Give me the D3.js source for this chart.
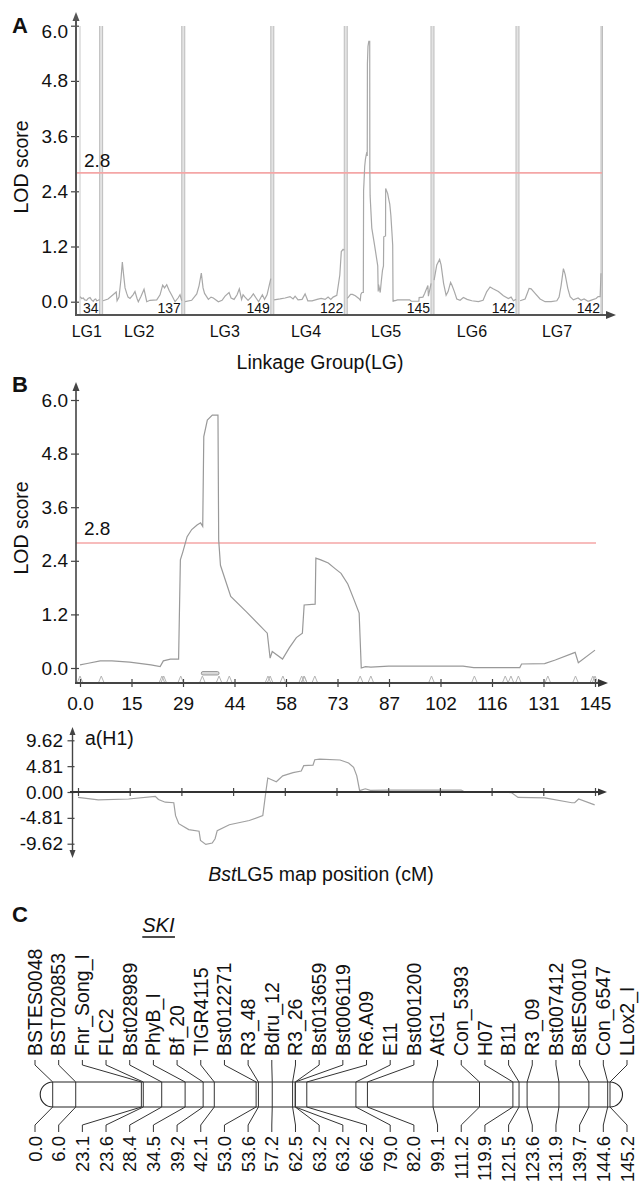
<!DOCTYPE html>
<html><head><meta charset="utf-8">
<script src="https://cdn.jsdelivr.net/npm/d3@7"></script>
<style>
body{margin:0;background:#fff}
svg{display:block}
text{font-family:"Liberation Sans",Arial,Helvetica,sans-serif;fill:#111}
</style>
</head><body>
<svg id="c" width="642" height="1183"></svg>
<script>
// ================= DATA =================
// Panel A: genome-wide scan
const groups = ["LG1","LG2","LG3","LG4","LG5","LG6","LG7"];
const groupLengths = [34,137,149,122,145,142,142];
const lodTicks = [0,1.2,2.4,3.6,4.8,6.0];
const threshold = 2.8;
// [position cM within group, LOD]
const lodLG1 = [[0,0.11],[3,0.07],[5.7,0.08],[8,0.04],[11.6,0.03],[14,0.07],[17.3,0.09],[20,0.04],[23,0.01],[25,0.05],[27.2,0.06],[29,0.02],[31.7,0.03],[34,0.05]];
const lodLG2 = [[0.7,0.02],[9.4,0.06],[18,0.15],[23.5,0.21],[25,0.02],[28.4,0.1],[31.8,0.5],[34.1,0.86],[36.2,0.6],[38.8,0.3],[41.7,0.18],[44,0.1],[47.4,0.07],[52.6,0.15],[56,0.22],[59.6,0.07],[61.8,0.0],[66.5,0.12],[71.7,0.27],[76.4,0.0],[82,0.03],[93.7,0.04],[99.4,0.15],[104,0.36],[107.2,0.3],[111,0.37],[115,0.25],[119.7,0.14],[125.4,0.0],[130.6,0.08],[134,0.15],[137,0.02]];
const lodLG3 = [[0.5,0.0],[12,0.03],[20.8,0.17],[24.8,0.35],[28.7,0.62],[31.7,0.3],[34.3,0.18],[40.9,0.05],[45.5,0.1],[49.5,0.08],[58.2,0.0],[64.6,0.03],[69.8,0.12],[76.7,0.2],[80.2,0.08],[85.4,0.05],[90.6,0.15],[94.5,0.28],[98.4,0.05],[101,0.15],[104.4,0.1],[109.6,0.03],[114.8,0.1],[118.8,0.17],[123.5,0.08],[127.8,0.0],[130.4,0.06],[134.4,0.15],[138.2,0.05],[142.5,0.15],[149,0.5]];
const lodLG4 = [[0.5,0.04],[10.9,0.06],[19.6,0.08],[28.2,0.11],[33.4,0.06],[36.9,0.12],[42,0.04],[49,0.05],[54.2,0.17],[58.9,0.02],[66.3,0.02],[75,0.05],[81.9,0.07],[88.8,0.05],[94,0.1],[98.7,0.05],[102.7,0.1],[109.1,0.14],[114.3,0.58],[116.9,1.09],[120,1.14],[122,1.12]];
const lodLG6 = [[0.2,0.47],[4.8,0.8],[9.7,0.92],[12.3,0.8],[16.6,0.4],[21,0.14],[24.4,0.22],[28.7,0.42],[31.3,0.35],[35.3,0.22],[39.5,0.06],[45.2,0.03],[50.9,0.09],[57.3,0.05],[65.5,0.02],[76.9,0.0],[85,0.03],[91.4,0.22],[97.1,0.32],[102.3,0.28],[111.5,0.22],[120.2,0.13],[128.8,0.07],[133.5,0.1],[137.5,0.02],[142,0.05]];
const lodLG7 = [[1.9,0.02],[10.6,0.06],[14.9,0.2],[17.5,0.29],[21,0.28],[27.9,0.18],[36.5,0.06],[45.2,0.0],[55.6,0.0],[65.5,0.02],[69.4,0.1],[72.9,0.35],[76.9,0.72],[79.8,0.6],[84.5,0.29],[88.5,0.11],[94.2,0.04],[102.3,0.08],[107.5,0.03],[112.7,0.06],[119.6,0.01],[126.6,0.04],[133.5,0.07],[137,0.11],[140.5,0.11],[142,0.62]];

// Panel B: LG5 detail (also LG5 in panel A)
const lodLG5 = [[0,0.07],[2,0.1],[5.7,0.16],[9,0.16],[14,0.13],[20,0.07],[22.6,0.03],[23.5,0.16],[25.5,0.2],[27.8,0.2],[28.3,2.42],[29,2.6],[30.2,2.94],[31.5,3.1],[33,3.2],[34,3.25],[34.6,3.17],[34.9,5.18],[35.9,5.55],[37.3,5.66],[38.9,5.66],[39.1,2.87],[39.6,2.3],[42.5,1.6],[47,1.25],[52.8,0.78],[53.6,0.22],[54.2,0.37],[57.1,0.2],[59,0.45],[61,0.68],[62.7,0.78],[63.2,1.41],[66.3,1.43],[66.5,2.46],[67.9,2.42],[70,2.35],[72,2.22],[73.6,2.12],[75.5,1.88],[77.3,1.52],[78.7,1.23],[79.3,0.0],[80.5,0.03],[82,0.02],[87,0.04],[108,0.04],[111,0.01],[124,0.01],[124.5,0.09],[131,0.1],[134,0.18],[139.6,0.35],[140.5,0.12],[145.2,0.4]];
const xTickLabelsB = ["0.0","15","29","44","58","73","87","102","116","131","145"];
const supportInterval = [34.2, 39.2];

// Additive effect a(H1)
const effectTicks = [-9.62,-4.81,0,4.81,9.62];
const effectH1 = [[0,-1.0],[5.7,-1.48],[14.2,-1.3],[21.7,-0.8],[22.6,-1.4],[24.5,-1.9],[26.9,-2.0],[27.4,-4.4],[28.3,-5.9],[31.1,-7.0],[34.0,-7.3],[34.4,-9.0],[35.9,-9.76],[37.7,-9.5],[38.5,-8.7],[39.1,-7.2],[42.5,-6.1],[48.1,-5.3],[51.9,-4.4],[52.8,0.24],[53.3,2.6],[55.7,1.9],[57.5,3.0],[60.4,3.6],[62.7,3.9],[63.4,4.9],[66.0,5.0],[66.5,6.0],[67.9,6.1],[73.6,5.95],[76,5.4],[77.4,4.6],[78.3,3.0],[79.1,0.25],[80.7,0.6],[82.1,0.3],[86.8,0.36],[107.6,0.36],[108.5,0.06],[117.9,0.0],[121.7,-0.1],[123.6,-1.0],[131.1,-1.1],[138.7,-2.0],[139.5,-2.0],[140.6,-1.3],[145.1,-2.4]];

// Panel C: BstLG5 map
const markers = ["BSTES0048","BST020853","Fnr_Song_I","FLC2","Bst028989","PhyB_I","Bf_20","TIGR4115","Bst012271","R3_48","Bdru_12","R3_26","Bst013659","Bst006119","R6.A09","E11","Bst001200","AtG1","Con_5393","H07","B11","R3_09","Bst007412","BstES0010","Con_6547","LLox2_I"];
const markerPos = [0.0,6.0,23.1,23.6,28.4,34.5,39.2,42.1,53.0,53.6,57.2,62.5,63.2,63.2,66.2,79.0,82.0,99.1,111.2,119.9,121.5,123.6,131.9,139.7,144.6,145.2];

// ================= DRAWING =================
const svg = d3.select("#c");
const AX = "#444";

function tri(g, x, y, dir, color, L=9, W=4){
  let p;
  if(dir==="up") p=[[x,y],[x-W,y+L],[x+W,y+L]];
  else if(dir==="down") p=[[x,y],[x-W,y-L],[x+W,y-L]];
  else p=[[x,y],[x-L,y-W],[x-L,y+W]];
  g.append("path").attr("d", d3.line()(p)+"Z").attr("fill", color);
}
function styleAxis(g, fs){
  g.select(".domain").remove();
  g.selectAll("text").attr("font-size", fs).attr("fill","#111")
    .attr("font-family",'"Liberation Sans",Arial,sans-serif');
  g.selectAll("line").attr("stroke", AX).attr("stroke-width",1.2);
}

// ---------- Panel A ----------
const gA = svg.append("g");
const kA = 0.5775, gapA = 3, x0A = 80;
const starts = []; let acc = x0A;
groupLengths.forEach(L => { starts.push(acc); acc += L*kA + gapA; });
const xGroup = groupLengths.map((L,i) => d3.scaleLinear([0,L],[starts[i], starts[i]+L*kA]));
const yA = d3.scaleLinear([0,6],[301.7,25.7]);
const topA = 26, baseA = 315;

// group boundaries
for(let i=0;i<groups.length;i++){
  const e = xGroup[i](groupLengths[i]);
  const s2 = i<groups.length-1 ? xGroup[i+1](0) : e+1.5;
  gA.append("rect").attr("x",e).attr("y",topA).attr("width",s2-e).attr("height",baseA-topA).attr("fill","#e3e3e3");
  [e,s2].forEach(x=>gA.append("line").attr("x1",x).attr("x2",x).attr("y1",topA).attr("y2",baseA).attr("stroke","#bdbdbd").attr("stroke-width",1));
}
gA.append("line").attr("x1",xGroup[0](0)).attr("x2",xGroup[0](0)).attr("y1",topA).attr("y2",baseA).attr("stroke","#c8c8c8");

// threshold
gA.append("line").attr("x1",76).attr("x2",602).attr("y1",yA(threshold)).attr("y2",yA(threshold)).attr("stroke","#f4a6a6").attr("stroke-width",1.6);
gA.append("text").attr("x",84).attr("y",yA(threshold)-6).attr("font-size",19).text(threshold.toFixed(1));

// curves
const lodsA = [lodLG1,lodLG2,lodLG3,lodLG4,lodLG5,lodLG6,lodLG7];
lodsA.forEach((arr,i)=>{
  gA.append("path").datum(arr)
    .attr("d", d3.line().x(d=>xGroup[i](d[0])).y(d=>yA(d[1])))
    .attr("fill","none").attr("stroke","#a8a8a8").attr("stroke-width",1.2);
});

// group labels
groups.forEach((name,i)=>{
  const L = groupLengths[i];
  gA.append("text").attr("x",xGroup[i](L)-1).attr("y",313).attr("text-anchor","end").attr("font-size",14).text(L);
  gA.append("text").attr("x",(xGroup[i](0)+xGroup[i](L))/2-3).attr("y",337).attr("text-anchor","middle").attr("font-size",16).text(name);
});

// axes A
const axA = gA.append("g").attr("transform","translate(76,0)")
  .call(d3.axisLeft(yA).tickValues(lodTicks).tickFormat(d3.format(".1f")).tickSize(5).tickPadding(3));
styleAxis(axA,19);
axA.selectAll(".tick line").attr("x2",-5).attr("x1",3);
axA.selectAll(".tick text").filter(d=>d===6).attr("dy","0.62em");
gA.append("line").attr("x1",76).attr("x2",76).attr("y1",baseA).attr("y2",20).attr("stroke","#555").attr("stroke-width",2);
tri(gA,76,12,"up","#555",9,3.5);
gA.append("line").attr("x1",75).attr("x2",608).attr("y1",baseA).attr("y2",baseA).attr("stroke","#555").attr("stroke-width",2.2);
tri(gA,616,baseA,"right","#444",10,4);
gA.append("text").attr("transform","translate(28,167) rotate(-90)").attr("text-anchor","middle").attr("font-size",19.5).text("LOD score");
gA.append("text").attr("x",320).attr("y",369).attr("text-anchor","middle").attr("font-size",19.5).text("Linkage Group(LG)");
svg.append("text").attr("x",12).attr("y",33).attr("font-size",22).attr("font-weight","bold").text("A");

// ---------- Panel B ----------
const gB = svg.append("g");
const xB = d3.scaleLinear([0,145.2],[80,595]);
const yB = d3.scaleLinear([0,6],[668,400]);
const baseB = 683;
const tickValsB = xTickLabelsB.map((d,i)=>145.2*i/10);

gB.append("line").attr("x1",76).attr("x2",596).attr("y1",yB(threshold)).attr("y2",yB(threshold)).attr("stroke","#f4a6a6").attr("stroke-width",1.6);
gB.append("text").attr("x",84).attr("y",535).attr("font-size",19).text(threshold.toFixed(1));

gB.append("path").datum(lodLG5)
  .attr("d", d3.line().x(d=>xB(d[0])).y(d=>yB(d[1])))
  .attr("fill","none").attr("stroke","#999").attr("stroke-width",1.2);

// marker carets on axis
gB.selectAll(".caret").data(markerPos).enter().append("path")
  .attr("d", d => `M${xB(d)-2.5},${baseB-1}L${xB(d)},${baseB-7}L${xB(d)+2.5},${baseB-1}`)
  .attr("fill","none").attr("stroke","#b5b5b5").attr("stroke-width",1);
// support interval bar
gB.append("rect").attr("x",xB(supportInterval[0])).attr("y",671.5).attr("width",xB(supportInterval[1])-xB(supportInterval[0])).attr("height",3.5)
  .attr("rx",1.7).attr("fill","#d8d8d8").attr("stroke","#888").attr("stroke-width",0.8);

const axBy = gB.append("g").attr("transform","translate(76,0)")
  .call(d3.axisLeft(yB).tickValues(lodTicks).tickFormat(d3.format(".1f")).tickSize(5).tickPadding(3));
styleAxis(axBy,19);
axBy.selectAll(".tick line").attr("x1",3);
const axBx = gB.append("g").attr("transform",`translate(0,${baseB})`)
  .call(d3.axisBottom(xB).tickValues(tickValsB).tickFormat((d,i)=>xTickLabelsB[i]).tickSize(4).tickPadding(9.5));
styleAxis(axBx,19);
axBx.selectAll(".tick line").attr("y1",-4);
gB.append("line").attr("x1",76).attr("x2",76).attr("y1",baseB).attr("y2",390).attr("stroke","#444").attr("stroke-width",1.6);
tri(gB,76,382,"up","#444",9,3.5);
gB.append("line").attr("x1",75).attr("x2",600).attr("y1",baseB).attr("y2",baseB).attr("stroke","#444").attr("stroke-width",1.8);
tri(gB,608,baseB,"right","#333",10,4);
gB.append("text").attr("transform","translate(28,528) rotate(-90)").attr("text-anchor","middle").attr("font-size",19.5).text("LOD score");
svg.append("text").attr("x",12).attr("y",392).attr("font-size",22).attr("font-weight","bold").text("B");

// ---------- a(H1) ----------
const gH = svg.append("g");
const xH = d3.scaleLinear([0,145.2],[78,595]);
const yH = d3.scaleLinear([-9.62,9.62],[843.7,740.3]);
const zeroH = yH(0);
gH.append("path").datum(effectH1)
  .attr("d", d3.line().x(d=>xH(d[0])).y(d=>yH(d[1])))
  .attr("fill","none").attr("stroke","#a0a0a0").attr("stroke-width",1.2);
const axHy = gH.append("g").attr("transform","translate(72.5,0)")
  .call(d3.axisLeft(yH).tickValues(effectTicks).tickFormat(d=>d.toFixed(2)).tickSize(5).tickPadding(4.5));
styleAxis(axHy,19);
axHy.selectAll(".tick line").attr("x1",2);
const axHx = gH.append("g").attr("transform",`translate(0,${zeroH})`)
  .call(d3.axisBottom(xH).tickValues(tickValsB).tickFormat("").tickSize(4));
styleAxis(axHx,19);
axHx.selectAll(".tick line").attr("y1",-4);
gH.append("line").attr("x1",72.5).attr("x2",72.5).attr("y1",734).attr("y2",851).attr("stroke","#444").attr("stroke-width",1.4);
tri(gH,72.5,727,"up","#444",8,3);
tri(gH,72.5,858,"down","#444",8,3);
gH.append("line").attr("x1",70).attr("x2",600).attr("y1",zeroH).attr("y2",zeroH).attr("stroke","#333").attr("stroke-width",1.8);
tri(gH,607,zeroH,"right","#333",9,3.5);
gH.append("text").attr("x",85).attr("y",745).attr("font-size",19.5).text("a(H1)");
const tt = gH.append("text").attr("x",321).attr("y",881).attr("text-anchor","middle").attr("font-size",19.5);
tt.append("tspan").attr("font-style","italic").text("Bst");
tt.append("tspan").text("LG5 map position (cM)");

// ---------- Panel C ----------
const gC = svg.append("g");
svg.append("text").attr("x",12).attr("y",922).attr("font-size",22).attr("font-weight","bold").text("C");
const xC = d3.scaleLinear([0,145.2],[52.7,610]);
const labelX = d3.scalePoint().domain(markers).range([35,627]);
const chrTop = 1082, chrBot = 1107, r = (chrBot-chrTop)/2;
gC.append("rect").attr("x",xC(0)-r).attr("y",chrTop).attr("width",xC(145.2)-xC(0)+2*r).attr("height",chrBot-chrTop)
  .attr("rx",r).attr("ry",r).attr("fill","#fff").attr("stroke","#222").attr("stroke-width",1.1);
const lineGen = d3.line();
markers.forEach((m,i)=>{
  const mx = xC(markerPos[i]), lx = labelX(m);
  gC.append("line").attr("x1",mx).attr("x2",mx).attr("y1",chrTop).attr("y2",chrBot).attr("stroke","#333").attr("stroke-width",1);
  gC.append("path").attr("d",lineGen([[lx,1060],[lx,1065],[mx,chrTop]])).attr("fill","none").attr("stroke","#333").attr("stroke-width",1);
  gC.append("path").attr("d",lineGen([[mx,chrBot],[lx,1125],[lx,1132]])).attr("fill","none").attr("stroke","#333").attr("stroke-width",1);
  gC.append("text").attr("transform",`translate(${lx+6.8},1056) rotate(-90)`).attr("text-anchor","start").attr("font-size",19.5).text(m);
  gC.append("text").attr("transform",`translate(${lx+6.5},1136) rotate(-90)`).attr("text-anchor","end").attr("font-size",18.5).text(markerPos[i].toFixed(1));
});
// SKI locus label
const skiX = labelX("PhyB_I")+5;
const ski = gC.append("text").attr("x",skiX).attr("y",932).attr("text-anchor","middle").attr("font-size",20).attr("font-style","italic").text("SKI");
const bb = ski.node().getBBox();
gC.append("line").attr("x1",bb.x).attr("x2",bb.x+bb.width).attr("y1",937).attr("y2",937).attr("stroke","#111").attr("stroke-width",1.3);
</script>
</body></html>
